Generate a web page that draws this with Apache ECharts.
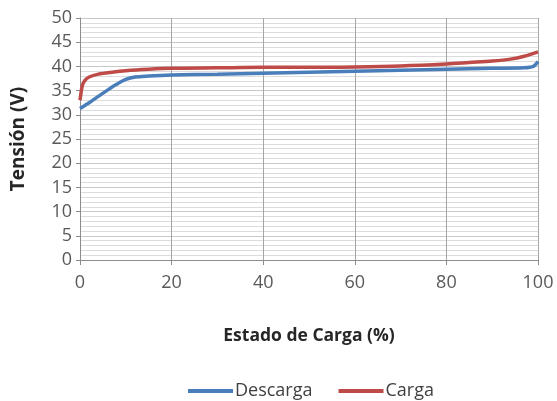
<!DOCTYPE html>
<html><head><meta charset="utf-8">
<script src="https://cdn.jsdelivr.net/npm/echarts@6/dist/echarts.min.js"></script>
<style>html,body{margin:0;padding:0;background:#fff}#c{width:557px;height:401px}</style>
</head><body><div id="c"></div>
<script>
const socDescarga = [0, 2, 4, 6, 8, 10, 12, 15, 20, 30, 40, 50, 60, 70, 80, 90, 97, 99, 100];
const vDescarga   = [31.3, 32.5, 33.8, 35.1, 36.3, 37.3, 37.8, 38.0, 38.2, 38.4, 38.6, 38.8, 39.0, 39.2, 39.4, 39.6, 39.7, 40.0, 41.0];
const socCarga = [0, 0.5, 1, 2, 4, 7, 10, 15, 20, 30, 40, 50, 60, 70, 80, 85, 90, 94, 97, 100];
const vCarga   = [33.0, 36.0, 37.0, 37.8, 38.4, 38.8, 39.1, 39.4, 39.6, 39.7, 39.8, 39.8, 39.9, 40.1, 40.5, 40.8, 41.1, 41.5, 42.1, 43.0];
const seriesNames = ['Descarga', 'Carga'];
const xTitle = 'Estado de Carga (%)';
const yTitle = 'Tensión (V)';

const font = '"Open Sans", "Liberation Sans", sans-serif';
const chart = echarts.init(document.getElementById('c'));
chart.setOption({
  animation: false,
  grid: { left: 80, right: 19, top: 18, bottom: 141 },
  legend: {
    top: 377, left: 183, icon: 'rect', itemWidth: 45, itemHeight: 4, itemGap: 26,
    textStyle: { fontFamily: font, fontSize: 18, color: '#404040', padding: [0, 0, 0, -3] },
    data: seriesNames
  },
  xAxis: {
    type: 'value', min: 0, max: 100, interval: 20,
    name: xTitle, nameLocation: 'middle', nameGap: 67,
    nameTextStyle: { fontFamily: font, fontSize: 17.5, fontWeight: 'bold', color: '#262626' },
    axisLine: { lineStyle: { color: '#8c8c8c' } },
    axisTick: { show: true, length: 5, lineStyle: { color: '#8c8c8c' } },
    axisLabel: { fontFamily: font, fontSize: 18, color: '#595959', margin: 14 },
    splitLine: { show: true, lineStyle: { color: '#a6a6a6', width: 1 } }
  },
  yAxis: {
    type: 'value', min: 0, max: 50, interval: 5,
    name: yTitle, nameLocation: 'middle', nameGap: 52,
    nameTextStyle: { fontFamily: font, fontSize: 19, fontWeight: 'bold', color: '#262626' },
    axisLine: { show: true, lineStyle: { color: '#8c8c8c' } },
    axisTick: { show: true, length: 4, lineStyle: { color: '#8c8c8c' } },
    axisLabel: { fontFamily: font, fontSize: 18, color: '#595959', margin: 8 },
    splitLine: { show: true, lineStyle: { color: '#c8c8c8', width: 1 } },
    minorTick: { show: false, splitNumber: 5 },
    minorSplitLine: { show: true, lineStyle: { color: '#dcdcdc', width: 1 } }
  },
  series: [
    {
      name: seriesNames[0], type: 'line', smooth: 0.3, showSymbol: false,
      lineStyle: { color: '#4a7ebb', width: 3.5 }, itemStyle: { color: '#4a7ebb' },
      data: socDescarga.map((x, i) => [x, vDescarga[i]])
    },
    {
      name: seriesNames[1], type: 'line', smooth: 0.3, showSymbol: false,
      lineStyle: { color: '#be4b48', width: 3.5 }, itemStyle: { color: '#be4b48' },
      data: socCarga.map((x, i) => [x, vCarga[i]])
    }
  ]
});
</script></body></html>
